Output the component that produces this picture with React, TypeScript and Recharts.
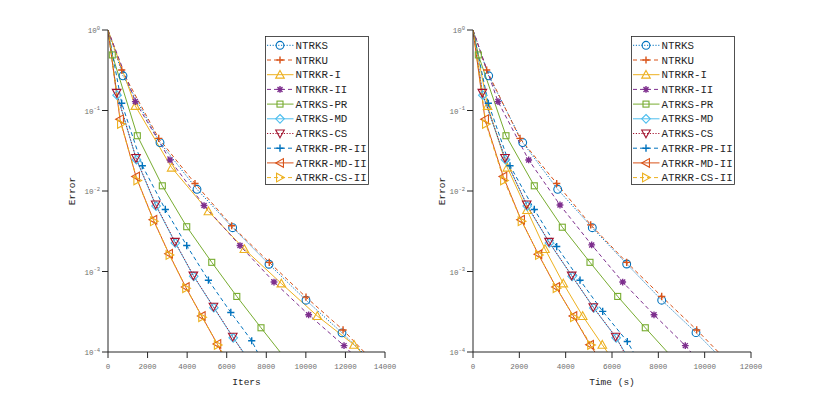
import { LineChart, Line, XAxis, YAxis, Legend } from 'recharts'

type Pt = [number, number]

const seriesNames = [
  'NTRKS',
  'NTRKU',
  'NTRKR-I',
  'NTRKR-II',
  'ATRKS-PR',
  'ATRKS-MD',
  'ATRKS-CS',
  'ATRKR-PR-II',
  'ATRKR-MD-II',
  'ATRKR-CS-II',
]

const itersTicks = [0, 2000, 4000, 6000, 8000, 10000, 12000, 14000]
const timeTicks = [0, 2000, 4000, 6000, 8000, 10000, 12000]
const errorTicks = [1e-4, 1e-3, 1e-2, 1e-1, 1]

// error vs iterations
const ntrksIters: Pt[] = [[0, 1], [758, 0.27], [2628, 0.04], [4498, 0.0105], [6300, 0.0035], [8137, 0.00123], [10007, 0.00044], [11827, 0.000173], [12840, 0.0001]]
const ntrkuIters: Pt[] = [[0, 1], [692, 0.318], [2564, 0.045], [4397, 0.0124], [6250, 0.0037], [8150, 0.0013], [10007, 0.00048], [11880, 0.000188], [12950, 0.0001]]
const ntrkr1Iters: Pt[] = [[0, 1], [1380, 0.114], [3218, 0.0195], [5075, 0.0056], [6891, 0.0019], [8762, 0.00071], [10580, 0.00028], [12434, 0.000123], [12780, 0.0001]]
const ntrkr2Iters: Pt[] = [[0, 1], [1380, 0.129], [3134, 0.0243], [4853, 0.0066], [6671, 0.0021], [8390, 0.00074], [10142, 0.00029], [11929, 0.00012], [12250, 0.0001]]
const atrksPrIters: Pt[] = [[0, 1], [217, 0.49], [1482, 0.0486], [2745, 0.0116], [3979, 0.0036], [5244, 0.0013], [6510, 0.00049], [7733, 0.0002], [8700, 0.0001]]
const atrksMdIters: Pt[] = [[0, 1], [460, 0.155], [1440, 0.0245], [2430, 0.0065], [3405, 0.00226], [4335, 0.00087], [5350, 0.000355], [6330, 0.00015], [6840, 0.0001]]
const atrksCsIters: Pt[] = [[0, 1], [438, 0.166], [1415, 0.0257], [2410, 0.0068], [3386, 0.00234], [4313, 0.00089], [5329, 0.000366], [6306, 0.000155], [6810, 0.0001]]
const atrkrPrIters: Pt[] = [[0, 1], [692, 0.123], [1735, 0.0206], [2897, 0.0059], [3979, 0.0021], [5075, 0.00078], [6207, 0.00031], [7264, 0.000138], [7550, 0.0001]]
const atrkrMdIters: Pt[] = [[0, 1], [606, 0.078], [1415, 0.0151], [2290, 0.0044], [3083, 0.00166], [3926, 0.00064], [4735, 0.00028], [5524, 0.000126], [5720, 0.0001]]
const atrkrCsIters: Pt[] = [[0, 1], [657, 0.068], [1482, 0.0135], [2320, 0.0042], [3110, 0.0016], [3950, 0.00062], [4760, 0.00027], [5550, 0.000122], [5770, 0.0001]]

// error vs time (s)
const ntrksTime: Pt[] = [[0, 1], [677, 0.27], [2145, 0.04], [3656, 0.0105], [5150, 0.0035], [6634, 0.00124], [8145, 0.00044], [9626, 0.000174], [10446, 0.0001]]
const ntrkuTime: Pt[] = [[0, 1], [590, 0.318], [2029, 0.045], [3613, 0.0124], [5080, 0.0038], [6634, 0.0013], [8145, 0.00049], [9656, 0.000188], [10590, 0.0001]]
const ntrkr1Time: Pt[] = [[0, 1], [630, 0.114], [1481, 0.0195], [2331, 0.0058], [3108, 0.0019], [3898, 0.00071], [4735, 0.00028], [5581, 0.000123], [5800, 0.0001]]
const ntrkr2Time: Pt[] = [[0, 1], [1079, 0.129], [2404, 0.0243], [3755, 0.0067], [5123, 0.00214], [6462, 0.00074], [7813, 0.00029], [9164, 0.00012], [9400, 0.0001]]
const atrksPrTime: Pt[] = [[0, 1], [230, 0.49], [1424, 0.0486], [2646, 0.0116], [3855, 0.00355], [5050, 0.0013], [6246, 0.00049], [7437, 0.0002], [8387, 0.0001]]
const atrksMdTime: Pt[] = [[0, 1], [425, 0.155], [1405, 0.0245], [2340, 0.0065], [3300, 0.00226], [4280, 0.00087], [5215, 0.000352], [6180, 0.00015], [6545, 0.0001]]
const atrksCsTime: Pt[] = [[0, 1], [403, 0.166], [1381, 0.0257], [2318, 0.0068], [3281, 0.00234], [4260, 0.00089], [5192, 0.00036], [6159, 0.000155], [6518, 0.0001]]
const atrkrPrTime: Pt[] = [[0, 1], [662, 0.123], [1597, 0.0206], [2646, 0.0059], [3613, 0.00204], [4619, 0.00078], [5598, 0.00032], [6660, 0.000135], [6919, 0.0001]]
const atrkrMdTime: Pt[] = [[0, 1], [518, 0.078], [1308, 0.0151], [2072, 0.0044], [2819, 0.00164], [3583, 0.00064], [4330, 0.00028], [5050, 0.000123], [5260, 0.0001]]
const atrkrCsTime: Pt[] = [[0, 1], [560, 0.068], [1340, 0.0135], [2100, 0.0042], [2850, 0.0016], [3610, 0.00062], [4360, 0.00027], [5100, 0.000122], [5330, 0.0001]]

const itersSeries = [ntrksIters, ntrkuIters, ntrkr1Iters, ntrkr2Iters, atrksPrIters, atrksMdIters, atrksCsIters, atrkrPrIters, atrkrMdIters, atrkrCsIters]
const timeSeries = [ntrksTime, ntrkuTime, ntrkr1Time, ntrkr2Time, atrksPrTime, atrksMdTime, atrksCsTime, atrkrPrTime, atrkrMdTime, atrkrCsTime]

const DOT = '1.2 1.6'
const DASH = '4 3'
const lineStyles = [
  { color: '#0072BD', dash: DOT, marker: 'o' },
  { color: '#D95319', dash: DASH, marker: '+' },
  { color: '#EDB120', dash: undefined, marker: '^' },
  { color: '#7E2F8E', dash: DASH, marker: '*' },
  { color: '#77AC30', dash: undefined, marker: 's' },
  { color: '#4DBEEE', dash: undefined, marker: 'd' },
  { color: '#A2142F', dash: DOT, marker: 'v' },
  { color: '#0072BD', dash: DASH, marker: '+' },
  { color: '#D95319', dash: undefined, marker: '<' },
  { color: '#EDB120', dash: DASH, marker: '>' },
]

const FONT = '"Liberation Mono", "DejaVu Sans Mono", monospace'
const AXIS = '#262626'
const TICK_TEXT = '#6e6e6e'

const toRows = (pts: Pt[]) =>
  pts.map(([x, y], i) => ({ x, y, m: i > 0 && i < pts.length - 1 }))

const Marker = ({ kind, cx, cy, color }: { kind: string; cx: number; cy: number; color: string }) => {
  const p = { fill: 'none', stroke: color, strokeWidth: 1.1 }
  const s = 4.3
  switch (kind) {
    case 'o':
      return <circle cx={cx} cy={cy} r={3.9} {...p} />
    case '+':
      return <path d={`M${cx - 3.6},${cy}H${cx + 3.6}M${cx},${cy - 3.6}V${cy + 3.6}`} {...p} strokeWidth={1.4} />
    case '*':
      return (
        <path
          d={`M${cx - 3.4},${cy}H${cx + 3.4}M${cx},${cy - 3.4}V${cy + 3.4}M${cx - 2.5},${cy - 2.5}L${cx + 2.5},${cy + 2.5}M${cx - 2.5},${cy + 2.5}L${cx + 2.5},${cy - 2.5}`}
          {...p}
          strokeWidth={1.4}
        />
      )
    case 's':
      return <rect x={cx - 3} y={cy - 3} width={6} height={6} {...p} />
    case 'd':
      return <polygon points={`${cx},${cy - s} ${cx + s},${cy} ${cx},${cy + s} ${cx - s},${cy}`} {...p} />
    case '^':
      return <polygon points={`${cx},${cy - s} ${cx + s},${cy + s * 0.8} ${cx - s},${cy + s * 0.8}`} {...p} />
    case 'v':
      return <polygon points={`${cx},${cy + s} ${cx + s},${cy - s * 0.8} ${cx - s},${cy - s * 0.8}`} {...p} />
    case '<':
      return <polygon points={`${cx - s},${cy} ${cx + s * 0.8},${cy - s} ${cx + s * 0.8},${cy + s}`} {...p} />
    case '>':
      return <polygon points={`${cx + s},${cy} ${cx - s * 0.8},${cy - s} ${cx - s * 0.8},${cy + s}`} {...p} />
  }
  return null
}

const YTick = ({ x, y, payload }: any) => {
  const e = Math.round(Math.log10(payload.value))
  return (
    <text x={x} y={y} dy={3} textAnchor="end" fontFamily={FONT} fontSize={7.5} fill={TICK_TEXT}>
      10
      <tspan dy={-3.5} fontSize={5.5}>
        {e}
      </tspan>
    </text>
  )
}

const LegendBox = () => (
  <svg width={104} height={149} style={{ display: 'block' }}>
    <rect x={0.5} y={0.5} width={103} height={148} fill="#fff" stroke={AXIS} strokeWidth={0.8} />
    {seriesNames.map((name, i) => {
      const st = lineStyles[i]
      const y = 9.3 + i * 14.7
      return (
        <g key={name}>
          <line x1={2} x2={28.5} y1={y} y2={y} stroke={st.color} strokeWidth={1} strokeDasharray={st.dash} />
          <Marker kind={st.marker} cx={15} cy={y} color={st.color} />
          <text x={30.5} y={y} dy={3.6} fontFamily={FONT} fontSize={10.8} fill={AXIS}>
            {name}
          </text>
        </g>
      )
    })}
  </svg>
)

const ErrorPanel = ({
  series,
  xMax,
  xTicks,
  xLabel,
  margin,
  legendLeft,
  errorOffset,
}: {
  series: Pt[][]
  xMax: number
  xTicks: number[]
  xLabel: string
  margin: { top: number; right: number; bottom: number; left: number }
  legendLeft: number
  errorOffset: number
}) => (
  <LineChart width={415} height={395} margin={margin}>
    <XAxis
      dataKey="x"
      type="number"
      domain={[0, xMax]}
      ticks={xTicks}
      allowDataOverflow
      height={30}
      stroke={AXIS}
      tickSize={6}
      tickMargin={6}
      tick={{ fontSize: 7.5, fill: TICK_TEXT, fontFamily: FONT }}
      label={{ value: xLabel, position: 'bottom', offset: -4, style: { fontSize: 9.5, fill: AXIS, fontFamily: FONT } }}
    />
    <XAxis xAxisId="top" orientation="top" type="number" domain={[0, xMax]} ticks={xTicks} height={0} tick={false} tickSize={6} stroke={AXIS} />
    <YAxis
      dataKey="y"
      scale="log"
      type="number"
      domain={[1e-4, 1]}
      ticks={errorTicks}
      allowDataOverflow
      width={40}
      stroke={AXIS}
      tickSize={6}
      tickMargin={2}
      tick={<YTick />}
      label={{
        value: 'Error',
        angle: -90,
        position: 'insideLeft',
        offset: errorOffset,
        style: { textAnchor: 'middle', fontSize: 9.5, fill: AXIS, fontFamily: FONT },
      }}
    />
    <YAxis yAxisId="right" orientation="right" scale="log" type="number" domain={[1e-4, 1]} ticks={errorTicks} width={0} tick={false} tickSize={6} stroke={AXIS} />
    {series.map((pts, i) => {
      const st = lineStyles[i]
      const name = seriesNames[i]
      return (
        <Line
          key={name}
          name={name}
          data={toRows(pts)}
          dataKey="y"
          type="linear"
          stroke={st.color}
          strokeWidth={1}
          strokeDasharray={st.dash}
          isAnimationActive={false}
          activeDot={false}
          dot={(p: any) =>
            p.payload && p.payload.m ? (
              <Marker key={`${name}-${p.index}`} kind={st.marker} cx={p.cx} cy={p.cy} color={st.color} />
            ) : (
              <g key={`${name}-${p.index}`} />
            )
          }
        />
      )
    })}
    <Legend
      layout="vertical"
      align="center"
      verticalAlign="middle"
      content={() => <LegendBox />}
      wrapperStyle={{ left: legendLeft, top: 36, width: 104, height: 149 }}
    />
  </LineChart>
)

export default function App() {
  return (
    <div style={{ position: 'absolute', left: 0, top: 0, width: 830, height: 395, background: '#fff' }}>
      <div style={{ position: 'absolute', left: 0, top: 0 }}>
        <ErrorPanel
          series={itersSeries}
          xMax={14000}
          xTicks={itersTicks}
          xLabel="Iters"
          margin={{ top: 30, right: 30, bottom: 13, left: 68 }}
          legendLeft={265}
          errorOffset={4}
        />
      </div>
      <div style={{ position: 'absolute', left: 415, top: 0 }}>
        <ErrorPanel
          series={timeSeries}
          xMax={12000}
          xTicks={timeTicks}
          xLabel="Time (s)"
          margin={{ top: 30, right: 79, bottom: 13, left: 18 }}
          legendLeft={216}
          errorOffset={9}
        />
      </div>
    </div>
  )
}
